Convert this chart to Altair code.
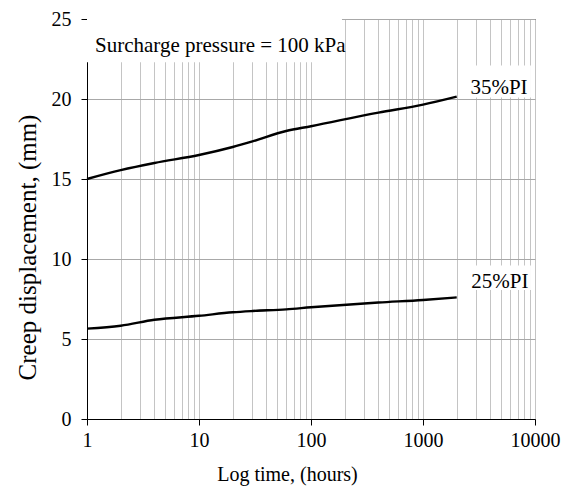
import altair as alt
import pandas as pd

# Data
time_h = [1, 2, 4, 10, 20, 30, 60, 100, 400, 1000, 2000]
pi35 = [15.0, 15.55, 16.0, 16.5, 17.0, 17.35, 18.0, 18.3, 19.15, 19.65, 20.15]
pi25 = [5.65, 5.83, 6.2, 6.45, 6.67, 6.75, 6.85, 6.98, 7.28, 7.44, 7.6]

x_ticks = [m * 10 ** e for e in range(4) for m in range(1, 10)] + [10000]
y_ticks = [0, 5, 10, 15, 20, 25]

ann_text = ["Surcharge pressure = 100 kPa", "35%PI", "25%PI"]
ann_x = [1.18, 2650, 2700]
ann_y = [22.95, 20.31, 8.19]
# white backgrounds behind the labels (data units)
box_x = [1.0, 2520, 2150]
box_x2 = [189, 9200, 9200]
box_y = [22.3, 20.1, 8.06]
box_y2 = [25.0, 22.1, 9.6]

FONT = "Liberation Serif"

lines = pd.DataFrame(
    [{"t": t, "d": v, "s": "35%PI"} for t, v in zip(time_h, pi35)]
    + [{"t": t, "d": v, "s": "25%PI"} for t, v in zip(time_h, pi25)]
)
ann = pd.DataFrame({"text": ann_text, "x": ann_x, "y": ann_y})
boxes = pd.DataFrame({"x": box_x, "x2": box_x2, "y": box_y, "y2": box_y2})

major_test = "abs(log(datum.value)/LN10 - round(log(datum.value)/LN10)) < 1e-6"

xscale = alt.Scale(type="log", domain=[1, 10000], nice=False)
yscale = alt.Scale(domain=[0, 25], nice=False, zero=True)

xaxis = alt.Axis(
    values=x_ticks,
    format="d",
    labelExpr=f"{major_test} ? datum.label : ''",
    grid=True,
    gridColor="#c4c4c4",
    gridWidth=1,
    tickColor={"condition": {"test": major_test, "value": "black"}, "value": "transparent"},
    tickSize=6,
    labelFont=FONT,
    labelFontSize=20,
    labelColor="black",
    labelPadding=5,
    labelFlush=False,
    labelOverlap=False,
    domainColor="black",
    title="Log time, (hours)",
    titleFont=FONT,
    titleFontSize=20,
    titleFontWeight="normal",
    titleColor="black",
    titleX=200,
    titleY=61,
    titleAlign="center",
    titleBaseline="alphabetic",
)
yaxis = alt.Axis(
    values=y_ticks,
    grid=True,
    gridColor="#a8a8a8",
    gridWidth=1,
    tickColor="black",
    tickSize=6,
    labelFont=FONT,
    labelFontSize=20,
    labelColor="black",
    labelPadding=10,
    domainColor="black",
    title="Creep displacement, (mm)",
    titleFont=FONT,
    titleFontSize=25,
    titleFontWeight="normal",
    titleColor="black",
    titleAngle=270,
    titleX=-60,
    titleY=228,
    titleAlign="center",
    titleBaseline="middle",
)

box_layer = alt.Chart(boxes).mark_rect(color="white").encode(
    x=alt.X("x:Q", scale=xscale, axis=xaxis),
    x2="x2:Q",
    y=alt.Y("y:Q", scale=yscale, axis=yaxis),
    y2="y2:Q",
)

line_layer = alt.Chart(lines).mark_line(
    color="black", strokeWidth=2.4, interpolate="monotone"
).encode(
    x=alt.X("t:Q", scale=xscale),
    y=alt.Y("d:Q", scale=yscale),
    detail="s:N",
)

text_layer = alt.Chart(ann).mark_text(
    font=FONT, fontSize=21, align="left", baseline="alphabetic", color="black"
).encode(x=alt.X("x:Q", scale=xscale), y=alt.Y("y:Q", scale=yscale), text="text:N")

chart = (
    alt.layer(box_layer, line_layer, text_layer)
    .properties(
        width=448,
        height=400,
        autosize=alt.AutoSizeParams(type="none"),
        padding={"left": 79, "top": 11, "right": 28, "bottom": 69},
        background="white",
    )
    .configure_view(stroke="black", strokeWidth=1)
)

chart.save("out.html", embed_options={"renderer": "svg", "actions": False})
